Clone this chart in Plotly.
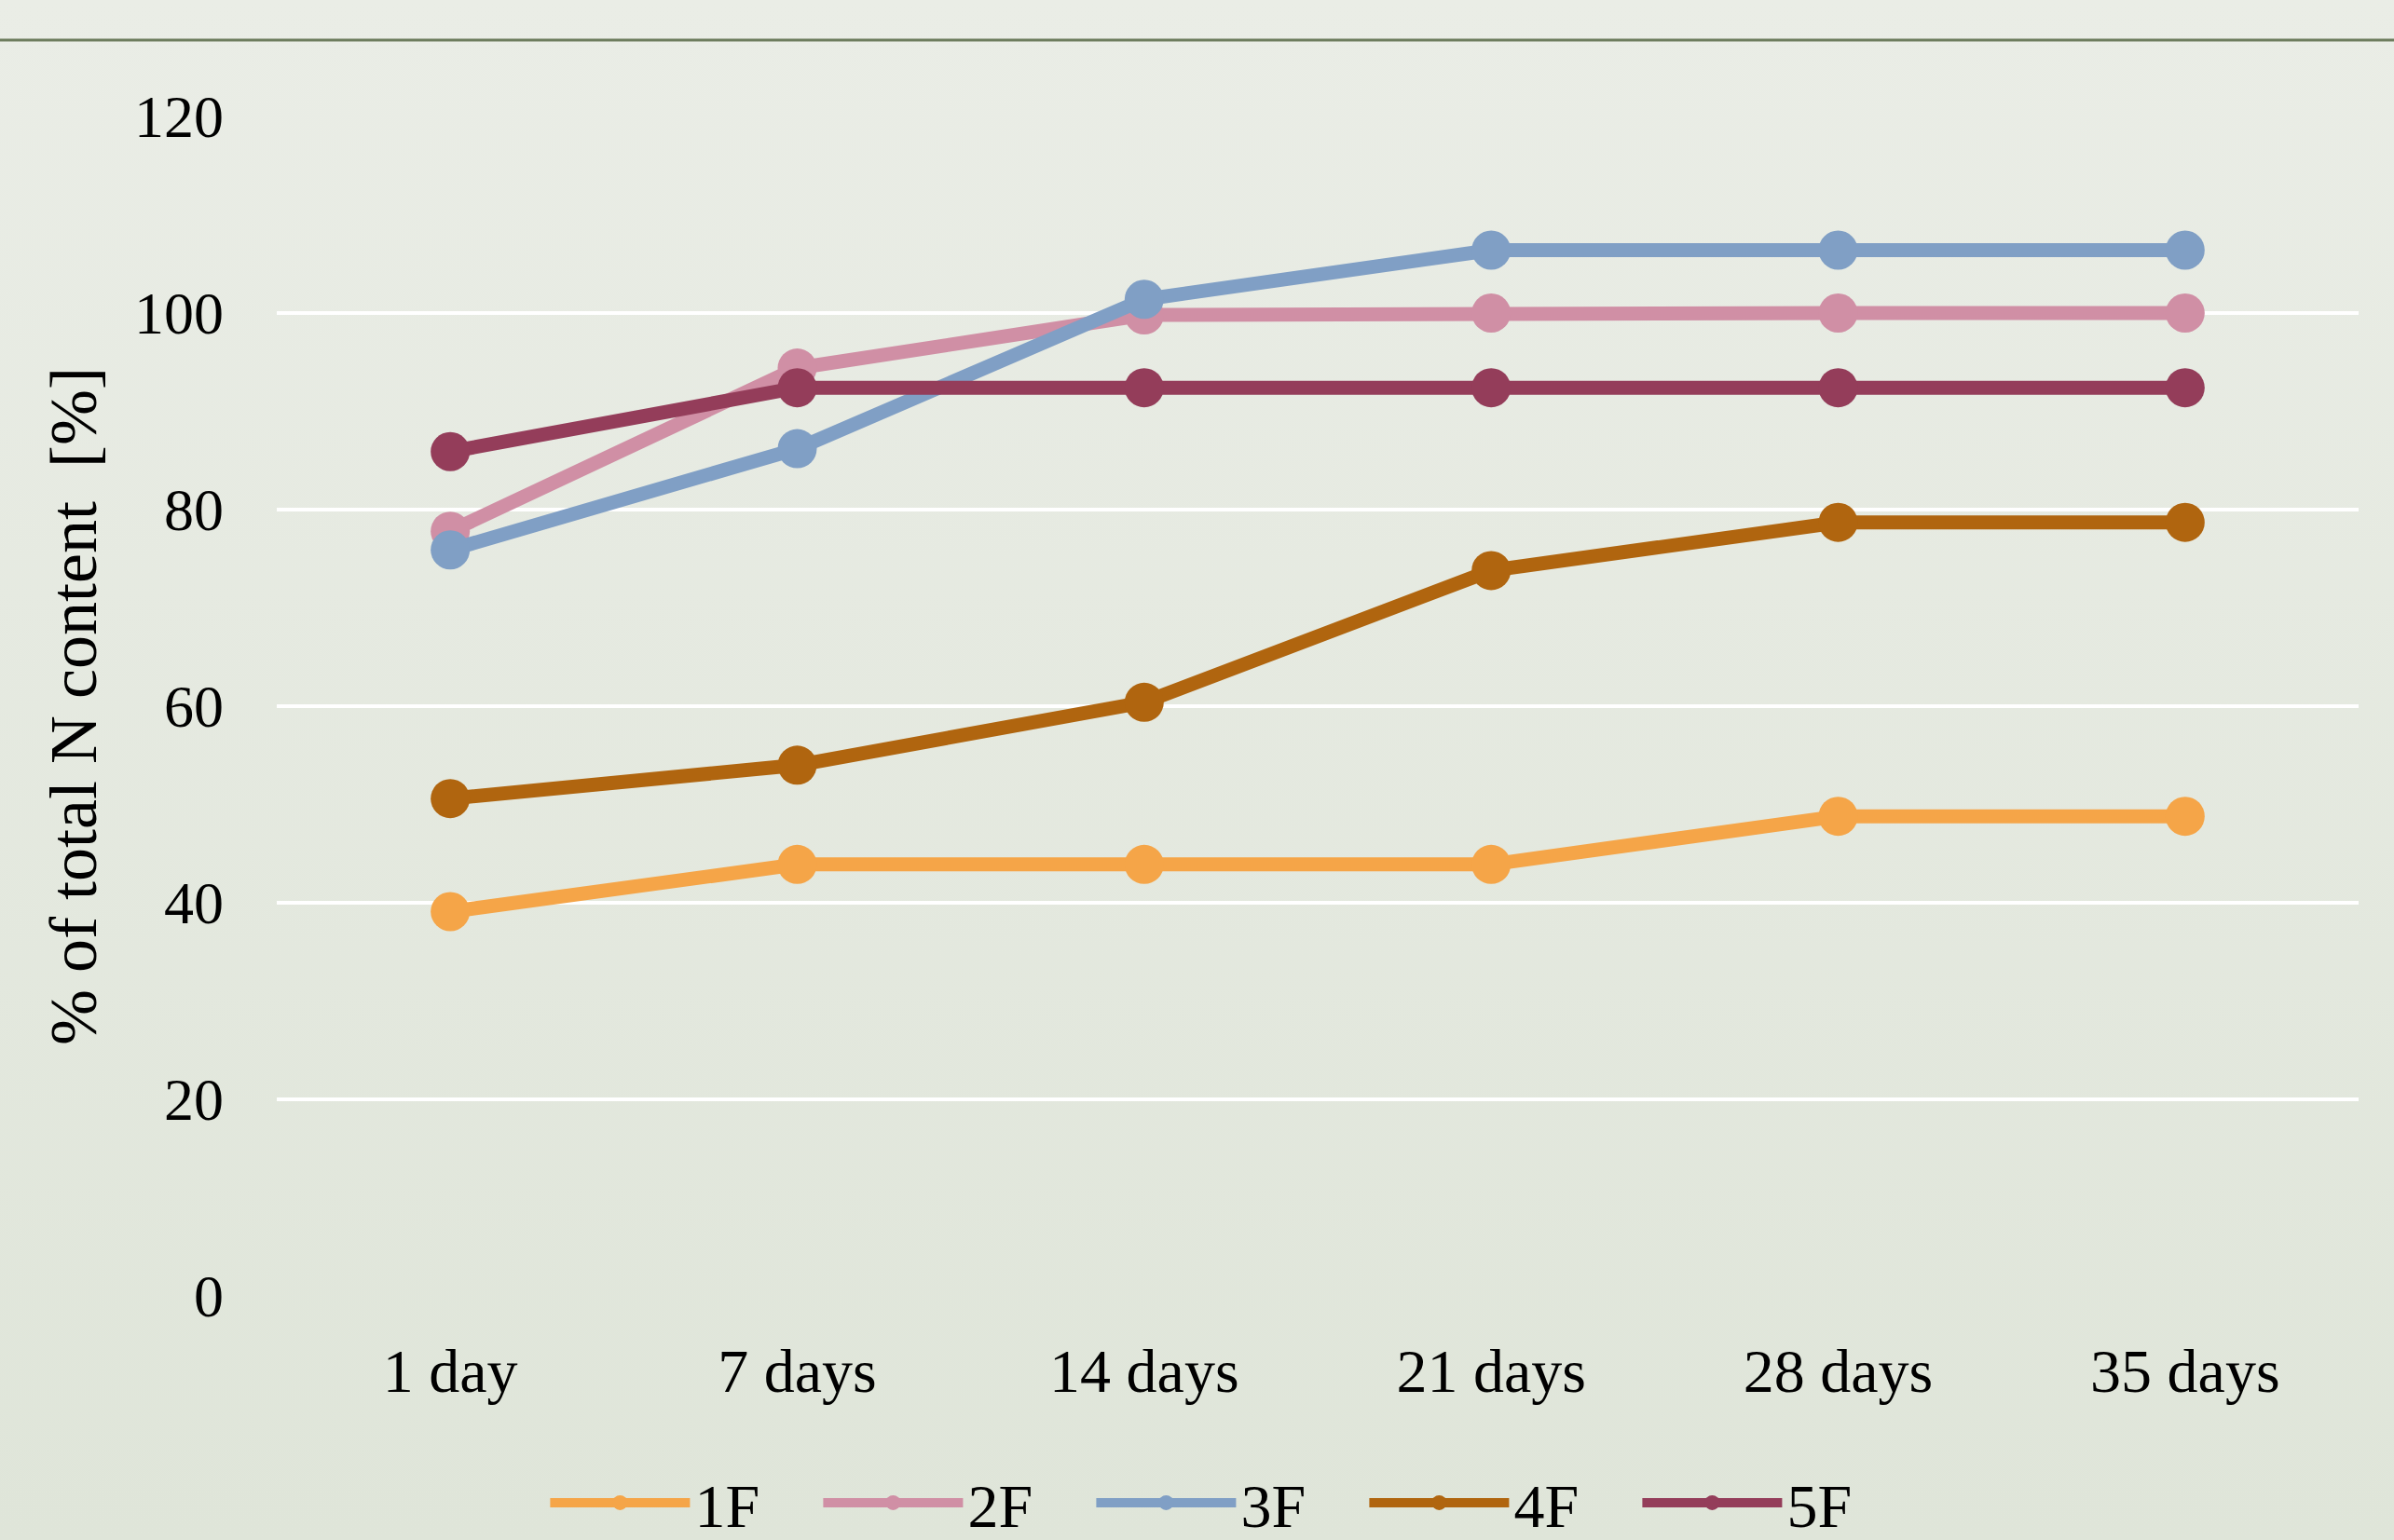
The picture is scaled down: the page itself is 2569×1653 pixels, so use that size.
import base64
import plotly.graph_objects as go

categories = ["1 day", "7 days", "14 days", "21 days", "28 days", "35 days"]
series_names = ["1F", "2F", "3F", "4F", "5F"]
s1F = [39.1, 43.9, 43.9, 43.9, 48.8, 48.8]
s2F = [77.8, 94.4, 99.8, 100.0, 100.0, 100.0]
s3F = [75.9, 86.2, 101.4, 106.4, 106.4, 106.4]
s4F = [50.6, 54.0, 60.4, 73.8, 78.7, 78.7]
s5F = [85.9, 92.4, 92.4, 92.4, 92.4, 92.4]
y_ticks = [0, 20, 40, 60, 80, 100, 120]

series_values = [s1F, s2F, s3F, s4F, s5F]
colors = ["#F5A548", "#D08FA5", "#809FC5", "#B0650F", "#943D5A"]

W, H = 2569, 1653
L, R, T, B = 297, 38, 125, 262
pw, ph = W - L - R, H - T - B

FONT = "Liberation Serif, Times New Roman, serif"

fig = go.Figure()
for name, vals, col in zip(series_names, series_values, colors):
    fig.add_trace(go.Scatter(
        x=categories, y=vals, name=name, mode="lines+markers",
        line=dict(color=col, width=15),
        marker=dict(color=col, size=42),
    ))

svg = ('<svg xmlns="http://www.w3.org/2000/svg" width="100" height="100" preserveAspectRatio="none">'
       '<defs><linearGradient id="g" x1="0" y1="0" x2="0" y2="1">'
       '<stop offset="0" stop-color="#EAEDE6"/><stop offset="1" stop-color="#DFE5D9"/>'
       '</linearGradient></defs><rect width="100" height="100" fill="url(#g)"/></svg>')
src = "data:image/svg+xml;base64," + base64.b64encode(svg.encode()).decode()

fig.add_layout_image(dict(
    source=src, xref="paper", yref="paper",
    x=-L / pw, y=1 + T / ph, sizex=W / pw, sizey=H / ph,
    xanchor="left", yanchor="top", sizing="stretch", layer="below",
))

fig.add_shape(type="line", xref="paper", yref="paper",
              x0=-L / pw, x1=1 + R / pw, y0=1 + (T - 43) / ph, y1=1 + (T - 43) / ph,
              line=dict(color="#6E7D5E", width=3))

fig.update_layout(
    width=W, height=H,
    margin=dict(l=L, r=R, t=T, b=B),
    paper_bgcolor="#E5E9DF",
    plot_bgcolor="rgba(0,0,0,0)",
    font=dict(family=FONT, size=64, color="#000000"),
    showlegend=True,
    legend=dict(
        orientation="h", x=0.513, xanchor="center", xref="container",
        y=(H - 1613) / H, yanchor="middle", yref="container",
        font=dict(family=FONT, size=66, color="#000000"),
        itemwidth=150, entrywidth=128, bgcolor="rgba(0,0,0,0)",
        traceorder="normal",
    ),
    xaxis=dict(
        type="category", range=[-0.5, 5.5], showgrid=False, zeroline=False,
        showline=False, ticks="", ticklabelstandoff=36,
        tickfont=dict(family=FONT, size=66),
    ),
    yaxis=dict(
        range=[0, 120], tickvals=y_ticks, showgrid=True, gridcolor="#FFFFFF",
        gridwidth=4, zeroline=False, showline=False, ticks="",
        ticklabelstandoff=56, tickfont=dict(family=FONT, size=64),
        title=dict(text="% of total N content\u00a0\u00a0[%]", standoff=16,
                   font=dict(family=FONT, size=72)),
    ),
)

fig.write_html("out.html")
